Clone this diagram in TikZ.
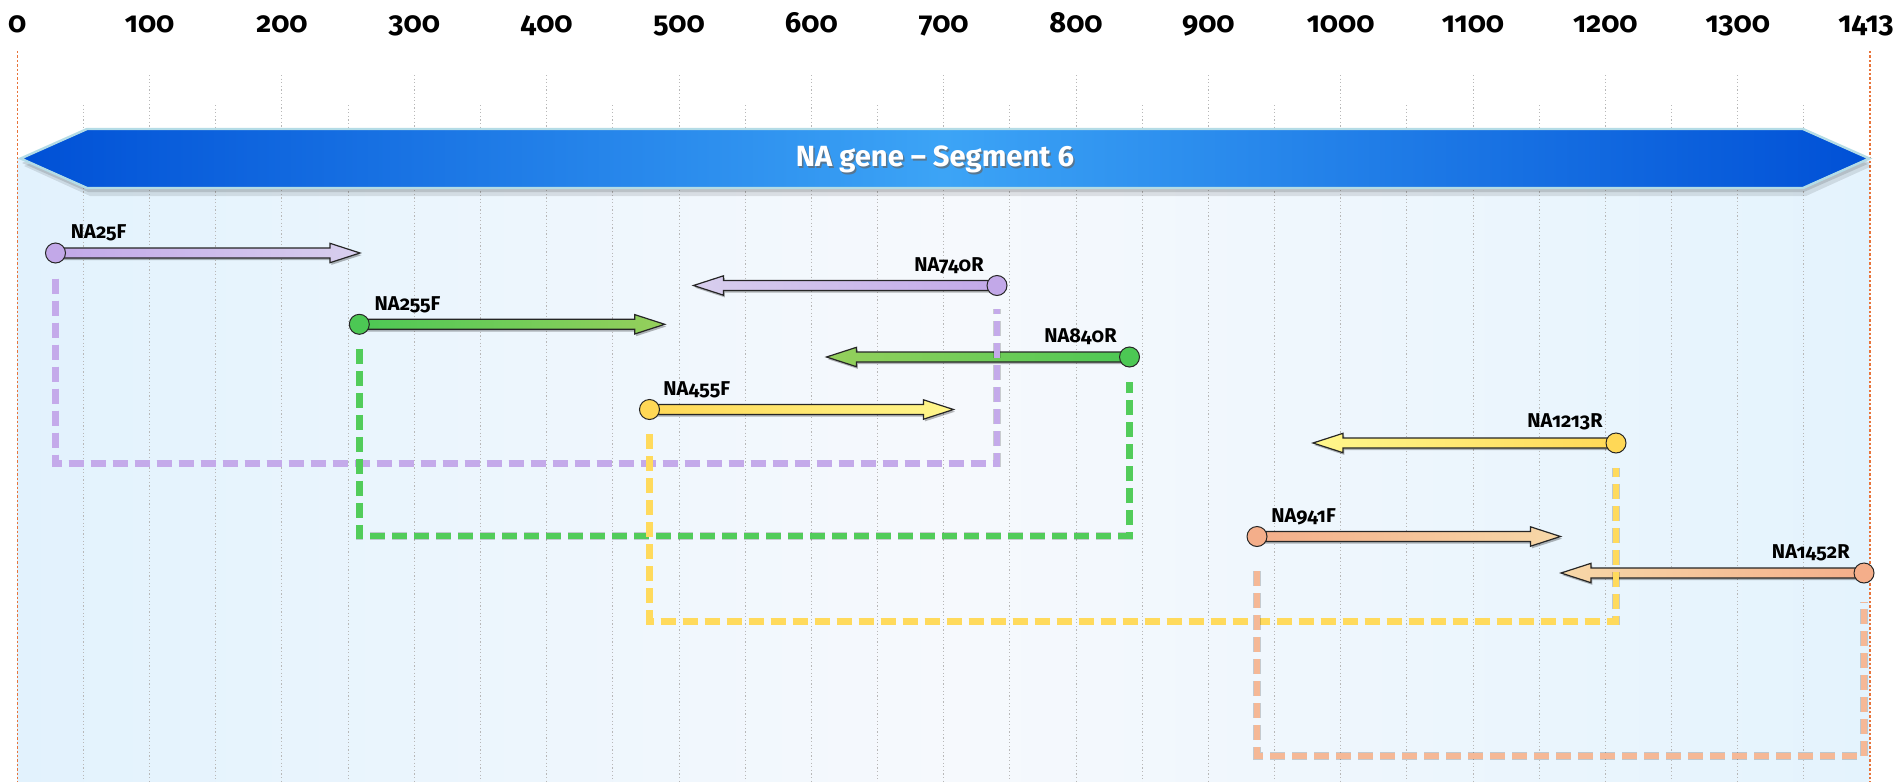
\documentclass[tikz,border=0pt]{standalone}
\usepackage{fontspec}
\setmainfont{Fira Sans}[Numbers=OldStyle]
\usetikzlibrary{calc}

\definecolor{bgL}{HTML}{E2F2FD}
\definecolor{bgM}{HTML}{F6F9FD}
\definecolor{bgR}{HTML}{E4F3FD}
\definecolor{gridc}{HTML}{B8B8B8}
\definecolor{edgec}{HTML}{E8743A}
\definecolor{blueD}{HTML}{0050D6}
\definecolor{blueL}{HTML}{3CA4F6}
\definecolor{geneEdge}{HTML}{B4DCE6}
\definecolor{purD}{HTML}{C2A8E8}
\definecolor{purL}{HTML}{D8CFEE}
\definecolor{grnD}{HTML}{4CC854}
\definecolor{grnL}{HTML}{96D05C}
\definecolor{yelD}{HTML}{FFD856}
\definecolor{yelL}{HTML}{FFF78C}
\definecolor{oraD}{HTML}{F4AE8A}
\definecolor{oraL}{HTML}{F7D8A8}
\definecolor{dPur}{HTML}{C4AAEA}
\definecolor{dGrn}{HTML}{52CC5A}
\definecolor{dYel}{HTML}{FFDA5C}
\definecolor{dOra}{HTML}{F5B896}

\tikzset{
  gridline/.style={gridc, line width=0.5pt, dash pattern=on 0.6pt off 1.2pt},
  edgeline/.style={edgec, line width=0.8pt, dash pattern=on 1.2pt off 1pt},
  ticklbl/.style={font=\fontsize{14.5}{16}\selectfont\bfseries, anchor=base, inner sep=0pt},
  plbl/.style={font=\fontsize{10}{12}\selectfont\bfseries, inner sep=0pt},
  pcirc/.style={circle, draw=black!85, line width=0.5pt, inner sep=0pt, minimum size=10pt},
  arrline/.style={draw=black!85, line width=0.6pt},
  pairline/.style={line width=3.3pt, dash pattern=on 7.5pt off 3.5pt},
  pairshadow/.style={line width=3.8pt, dash pattern=on 7.5pt off 3.5pt, black, opacity=0.18},
}

\newcommand\primarr[6]{%
  \fill[black,opacity=.28,xshift=0.7pt,yshift=-1.1pt] (#1,{#3-5}) -- ({#2-30*#6},{#3-5}) -- ({#2-30*#6},{#3-9.7}) -- (#2,#3) -- ({#2-30*#6},{#3+9.7}) -- ({#2-30*#6},{#3+5}) -- (#1,{#3+5}) -- cycle;
  \draw[arrline,left color=#4,right color=#5] (#1,{#3-5}) -- ({#2-30*#6},{#3-5}) -- ({#2-30*#6},{#3-9.7}) -- (#2,#3) -- ({#2-30*#6},{#3+9.7}) -- ({#2-30*#6},{#3+5}) -- (#1,{#3+5}) -- cycle;
}

\begin{document}
\begin{tikzpicture}[x=0.5pt,y=-0.5pt]
\useasboundingbox (0,0) rectangle (1902,782);
\fill[white] (0,0) rectangle (1902,782);

% background
\fill[left color=bgL, right color=bgR, middle color=bgM] (17.3,158) rectangle (1870,782);

% grid lines
\foreach \v in {50,100,...,1350}{
  \pgfmathsetmacro\gx{17.3+1.3234*\v}
  \pgfmathsetmacro\gy{mod(\v,100)==0 ? 75 : 105}
  \draw[gridline] (\gx,\gy) -- (\gx,782);
}
\draw[edgeline] (17.3,51) -- (17.3,782);
\draw[edgeline] (1870,51) -- (1870,782);

% tick labels
\node[ticklbl] (t0) at (17.3,32) {0};
\foreach \v in {100,200,...,1300}{
  \pgfmathsetmacro\gx{17.3+1.3234*\v}
  \node[ticklbl] (t\v) at (\gx,32) {\v};
}
\node[ticklbl] (t1413) at (1866,32) {1413};

% gene arrow
\fill[black,opacity=0.10] (24,166) -- (90,137) -- (1806,137) -- (1872,166) -- (1806,196) -- (90,196) -- cycle;
\fill[black,opacity=0.12] (22,163) -- (88,134) -- (1804,134) -- (1870,163) -- (1804,192) -- (88,192) -- cycle;
\draw[geneEdge, line width=1.2pt, left color=blueD, right color=blueD, middle color=blueL]
  (20.7,158.5) -- (87,129) -- (1803,129) -- (1869.3,158.5) -- (1803,188) -- (87,188) -- cycle;
\node[font=\fontsize{14.6}{16}\selectfont\bfseries, text=black!60, opacity=0.7] at (936.5,161.5) {NA gene – Segment 6};
\node[font=\fontsize{14.6}{16}\selectfont\bfseries, text=white] (gene) at (935,159.5) {NA gene – Segment 6};

% primer arrows
\primarr{55.5}{360}{253}{purD}{purL}{1}
\primarr{997}{693.5}{285.5}{purL}{purD}{-1}
\primarr{359.3}{664.7}{324.3}{grnD}{grnL}{1}
\primarr{1129.5}{826.5}{357}{grnL}{grnD}{-1}
\primarr{649.5}{953.5}{409.5}{yelD}{yelL}{1}
\primarr{1616}{1313}{443}{yelL}{yelD}{-1}
\primarr{1257}{1560.5}{536.5}{oraD}{oraL}{1}
\primarr{1864}{1561}{573}{oraL}{oraD}{-1}

% primer circles
\node[pcirc, fill=purD] (c25) at (55.5,253) {};
\node[pcirc, fill=purD] (c740) at (997,285.5) {};
\node[pcirc, fill=grnD] (c255) at (359.3,324.3) {};
\node[pcirc, fill=grnD] (c840) at (1129.5,357) {};
\node[pcirc, fill=yelD] (c455) at (649.5,409.5) {};
\node[pcirc, fill=yelD] (c1213) at (1616,443) {};
\node[pcirc, fill=oraD] (c941) at (1257,536.5) {};
\node[pcirc, fill=oraD] (c1452) at (1864,573) {};

% labels
\node[plbl, anchor=base west] (l25) at (70.5,238.5) {NA25F};
\node[plbl, anchor=base east] (l740) at (984,271) {NA740R};
\node[plbl, anchor=base west] (l255) at (374.3,310.5) {NA255F};
\node[plbl, anchor=base east] (l840) at (1117,342.5) {NA840R};
\node[plbl, anchor=base west] (l455) at (663,395) {NA455F};
\node[plbl, anchor=base east] (l1213) at (1603,427.5) {NA1213R};
\node[plbl, anchor=base west] (l941) at (1271,522.5) {NA941F};
\node[plbl, anchor=base east] (l1452) at (1850,558.5) {NA1452R};

% amplicon connectors
\draw[pairshadow, xshift=1.5pt, yshift=-2.5pt] ([yshift=-7.5pt]c25.south) -- ++(0,185) -| ([yshift=-6.5pt]c740.south);
\draw[pairline, dPur] ([yshift=-7.5pt]c25.south) -- ++(0,185) -| ([yshift=-6.5pt]c740.south);

\draw[pairshadow, xshift=1.5pt, yshift=-2.5pt] ([yshift=-7pt]c255.south) -- ++(0,187) -| ([yshift=-7pt]c840.south);
\draw[pairline, dGrn] ([yshift=-7pt]c255.south) -- ++(0,187) -| ([yshift=-7pt]c840.south);

\draw[pairshadow, xshift=1.5pt, yshift=-2.5pt] ([yshift=-7.2pt]c455.south) -- ++(0,187) -| ([yshift=-7pt]c1213.south);
\draw[pairline, dYel] ([yshift=-7.2pt]c455.south) -- ++(0,187) -| ([yshift=-7pt]c1213.south);

\draw[pairshadow, xshift=1.5pt, yshift=-2.5pt] ([yshift=-12pt]c941.south) -- ++(0,185) -| ([yshift=-9pt]c1452.south);
\draw[pairline, dOra] ([yshift=-12pt]c941.south) -- ++(0,185) -| ([yshift=-9pt]c1452.south);
\end{tikzpicture}
\end{document}
